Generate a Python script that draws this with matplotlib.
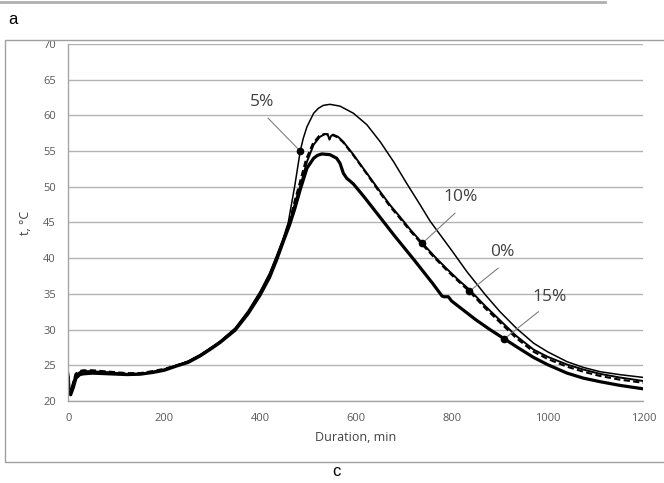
import numpy as np
import matplotlib.pyplot as plt
from matplotlib.patches import Rectangle
from matplotlib.lines import Line2D

# === data ===
x_top = [0, 2, 4, 8, 14, 22, 31, 50, 87, 122, 150, 177, 200, 226, 250, 275, 300, 317,
         348, 375, 400, 420, 435, 448, 459, 473, 484, 490, 498, 512, 522, 532, 546, 567,
         595, 623, 651, 679, 706, 734, 755, 800, 832, 870, 901, 935, 971, 1000, 1041,
         1075, 1110, 1150, 1200]
y_top = [24.0, 22.0, 21.2, 22.2, 23.5, 24.0, 24.2, 24.2, 24.0, 23.8, 23.85, 24.1, 24.4,
         25.0, 25.6, 26.5, 27.6, 28.4, 30.2, 32.6, 35.3, 37.9, 40.4, 42.7, 45.0, 50.3,
         55.0, 56.7, 58.4, 60.3, 61.0, 61.4, 61.55, 61.3, 60.3, 58.7, 56.3, 53.5, 50.5,
         47.5, 45.2, 41.1, 38.1, 34.9, 32.5, 30.2, 28.1, 26.9, 25.5, 24.7, 24.1, 23.7, 23.3]

x_mid = [0, 2, 5, 9, 15, 24, 31, 50, 87, 122, 150, 177, 200, 226, 250, 275, 300, 317,
         348, 375, 400, 420, 435, 448, 462, 475, 485, 498, 512, 525, 536, 541.5, 545,
         548, 553, 563, 574, 595, 623, 651, 672, 692, 715, 739, 765, 790, 815, 837, 870,
         901, 935, 971, 1000, 1041, 1075, 1110, 1150, 1200]
y_mid = [23.8, 21.5, 21.0, 22.0, 23.4, 24.0, 24.1, 24.1, 24.0, 23.8, 23.8, 24.1, 24.4,
         25.0, 25.5, 26.4, 27.5, 28.3, 30.1, 32.4, 35.1, 37.7, 40.2, 42.5, 45.0, 48.2,
         50.3, 53.5, 55.9, 57.0, 57.4, 57.3, 56.6, 57.1, 57.3, 57.0, 56.3, 54.5, 51.9,
         49.3, 47.4, 45.8, 43.9, 42.1, 40.2, 38.5, 36.9, 35.6, 33.3, 31.3, 29.1, 27.2,
         26.2, 25.1, 24.4, 23.8, 23.3, 22.8]

x_zero = [0, 2, 5, 9, 15, 24, 31, 50, 87, 122, 150, 177, 200, 226, 250, 275, 300, 317,
          348, 375, 400, 420, 435, 448, 461, 474, 484, 496, 510, 523, 535, 550, 563, 574,
          595, 623, 651, 672, 692, 715, 739, 765, 790, 815, 837, 870, 901, 935, 971,
          1000, 1041, 1075, 1110, 1150, 1200]
y_zero = [23.6, 21.2, 20.8, 22.3, 23.8, 24.2, 24.3, 24.3, 24.1, 23.9, 23.9, 24.2, 24.5,
          25.0, 25.5, 26.4, 27.5, 28.3, 30.0, 32.3, 34.9, 37.5, 40.0, 42.4, 45.0, 48.4,
          50.8, 53.8, 56.0, 57.1, 57.4, 57.3, 56.9, 56.2, 54.4, 51.8, 49.1, 47.2, 45.6,
          43.7, 41.9, 40.0, 38.3, 36.7, 35.35, 33.0, 31.0, 28.8, 26.9, 25.9, 24.8, 24.1,
          23.5, 23.0, 22.55]

x_bot = [0, 2, 5, 10, 16, 24, 31, 50, 87, 122, 150, 177, 200, 226, 250, 275, 300, 317,
         348, 375, 400, 420, 435, 448, 462, 473, 484, 498, 512, 520, 529, 546, 560, 567,
         574, 581, 595, 616, 651, 680, 720, 760, 780, 784, 793, 800, 825, 850, 880, 910,
         940, 971, 1000, 1041, 1075, 1110, 1150, 1200]
y_bot = [23.2, 21.0, 20.9, 21.8, 23.2, 23.7, 23.8, 23.9, 23.8, 23.7, 23.75, 24.0, 24.3,
         24.9, 25.4, 26.3, 27.4, 28.2, 29.9, 32.2, 34.8, 37.3, 39.8, 42.2, 44.7, 47.0,
         49.6, 52.6, 54.0, 54.4, 54.6, 54.5, 54.0, 53.3, 51.9, 51.2, 50.4, 48.7, 45.7,
         43.2, 39.9, 36.5, 34.7, 34.6, 34.6, 34.0, 32.7, 31.4, 30.0, 28.7, 27.4, 26.1,
         25.1, 23.9, 23.2, 22.7, 22.2, 21.7]

# label, curve, marker x, text position, leader start
labels = ["5%", "10%", "0%", "15%"]
label_curve = ["top", "mid", "zero", "bot"]
marker_x = [484, 739, 837, 910]
text_x = [404, 818, 906, 1004]
text_y = [61.9, 48.6, 40.9, 34.6]
lead_x = [417, 807, 897, 981]
lead_y = [59.6, 46.3, 38.6, 32.5]

x_ticks = [0, 200, 400, 600, 800, 1000, 1200]
y_ticks = [20, 25, 30, 35, 40, 45, 50, 55, 60, 65, 70]

curves = {"top": (x_top, y_top), "mid": (x_mid, y_mid),
          "zero": (x_zero, y_zero), "bot": (x_bot, y_bot)}

# === figure ===
plt.rcParams["font.family"] = ["Open Sans", "DejaVu Sans"]
fig = plt.figure(figsize=(6.64, 4.83), dpi=100)
ax = fig.add_axes([0.1029, 0.1698, 0.8659, 0.7391])

# outer chart frame and stray line at top
fig.patches.append(Rectangle((5 / 664, 1 - 462 / 483), 1.2, (462 - 40) / 483,
                             transform=fig.transFigure, fill=False,
                             edgecolor="#a0a0a0", lw=1.0))
fig.lines.append(Line2D([0, 605 / 664], [1 - 1.5 / 483] * 2, transform=fig.transFigure,
                        color="#b0b0b0", lw=2.0))

ax.plot(x_top, y_top, color="black", lw=1.1)
ax.plot(x_mid, y_mid, color="black", lw=1.4)
ax.plot(x_zero, y_zero, color="black", lw=1.5, dashes=(3, 1.6))
ax.plot(x_bot, y_bot, color="black", lw=2.3)

for lab, cv, mx, tx, ty, lx, ly in zip(labels, label_curve, marker_x, text_x, text_y,
                                       lead_x, lead_y):
    cx, cy = curves[cv]
    my = np.interp(mx, cx, cy)
    ax.plot([lx, mx], [ly, my], color="#7f7f7f", lw=0.8, zorder=4)
    ax.plot(mx, my, "o", color="black", ms=4.5, zorder=5)
    ax.text(tx, ty, lab, ha="center", va="center", fontsize=12.5, color="#404040")

ax.set_xlim(0, 1200)
ax.set_ylim(20, 70)
ax.set_xticks(x_ticks)
ax.set_yticks(y_ticks)
ax.tick_params(length=0, labelsize=8, labelcolor="#595959", pad=9)
ax.yaxis.grid(True, color="#b3b3b3", lw=1.0)
ax.set_axisbelow(True)
for s in ["top", "right"]:
    ax.spines[s].set_visible(False)
for s in ["left", "bottom"]:
    ax.spines[s].set_color("#a6a6a6")
    ax.spines[s].set_linewidth(1.0)

ax.set_xlabel("Duration, min", fontsize=9, color="#404040", labelpad=5)
ax.set_ylabel("t, °C", fontsize=9, color="#404040", labelpad=8)

fig.text(8 / 664, 1 - 19 / 483, "a", fontsize=12, family="Liberation Sans",
         ha="left", va="center")
fig.text(336 / 664, 1 - 472 / 483, "c", fontsize=12, family="Liberation Sans",
         ha="center", va="center")

fig.savefig("out.png", dpi=100)
